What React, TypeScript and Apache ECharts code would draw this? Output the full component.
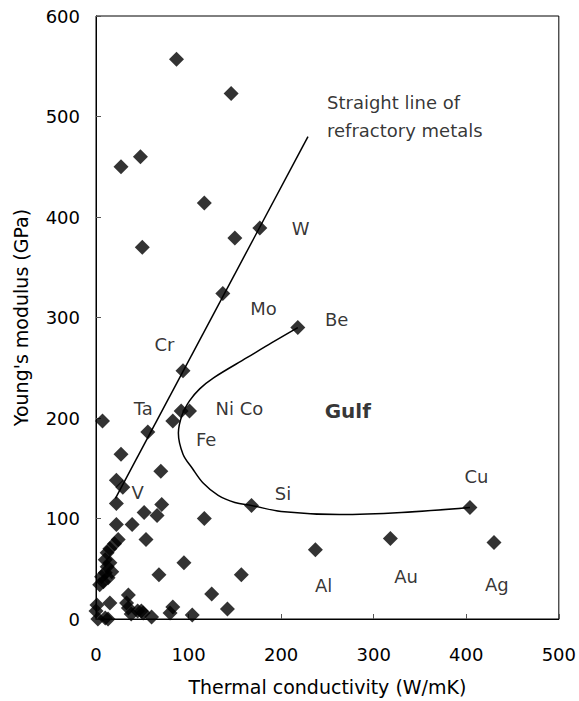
import React, { useEffect, useRef } from "react";
import * as echarts from "echarts";

// Thermal conductivity (W/mK), Young's modulus (GPa)
const materialPoints: [number, number][] = [
  [87, 557], [146, 523], [27, 450], [48, 460], [117, 414], [150, 379], [177, 389],
  [50, 370], [137, 324], [218, 290], [94, 247],
  [7, 197], [56, 186], [83, 197], [92, 207], [101, 207], [27, 164], [70, 147],
  [22, 138], [29, 131], [22, 115], [71, 114], [52, 106], [66, 103], [117, 100],
  [22, 94], [39, 94], [54, 79], [168, 113], [404, 111], [430, 76], [318, 80], [237, 69],
  [24, 79], [20, 75], [15, 70], [12, 66], [10, 59], [12, 52], [15, 56], [17, 47],
  [10, 46], [6, 42], [13, 41], [8, 37], [4, 34], [95, 56], [68, 44], [157, 44],
  [125, 25], [142, 10], [104, 4], [83, 12], [80, 6], [60, 2], [49, 8], [45, 8],
  [51, 6], [38, 5], [35, 24], [33, 16], [35, 11], [15, 16], [1, 14], [0, 8],
  [2, 0], [13, 0], [10, 1],
];

const refractoryLine: [number, number][] = [[21, 120], [229, 480]];

const gulfCurve: [number, number][] = [
  [218, 290], [190, 275], [163, 260], [127, 240], [112, 229], [101, 217], [93, 203],
  [89, 185], [94, 164], [104, 150], [116, 135], [132, 123], [150, 116], [168, 113],
  [200, 107], [263, 104], [330, 106], [404, 111],
];

const elementLabels: [number, number, string][] = [
  [221, 389, "W"], [181, 309, "Mo"], [74, 273, "Cr"], [260, 298, "Be"],
  [51, 209, "Ta"], [155, 209, "Ni Co"], [119, 179, "Fe"], [45, 126, "V"],
  [202, 125, "Si"], [411, 142, "Cu"], [246, 33, "Al"], [335, 42, "Au"], [433, 34, "Ag"],
];

const gulfLabel: [number, number, string][] = [[272, 207, "Gulf"]];

const noteLabels: [number, number, string][] = [
  [249.5, 514, "Straight line of"],
  [249.5, 486, "refractory metals"],
];

const xTicks = [0, 500, 100];
const yTicks = [0, 600, 100];

const FONT = "DejaVu Sans";

export default function App() {
  const ref = useRef<HTMLDivElement>(null);
  useEffect(() => {
    if (!ref.current) return;
    const chart = echarts.init(ref.current, null, { renderer: "svg" });
    const axisCommon = {
      axisLine: { show: true, lineStyle: { color: "#000", width: 1 } },
      axisTick: { show: true, inside: true, length: 5, lineStyle: { color: "#555" } },
      splitLine: { show: false },
      nameTextStyle: { fontFamily: FONT, fontSize: 19, color: "#000" },
    };
    const labelSeries = (data: [number, number, string][], extra: any) => ({
      type: "scatter",
      data,
      symbolSize: 0.1,
      itemStyle: { color: "transparent" },
      silent: true,
      label: {
        show: true,
        formatter: (p: any) => p.data[2],
        fontFamily: FONT,
        fontSize: 18,
        color: "#000",
        ...extra,
      },
    });
    chart.setOption({
      animation: false,
      backgroundColor: "#fff",
      textStyle: { fontFamily: FONT },
      grid: {
        left: 96,
        right: 20,
        top: 16,
        bottom: 78,
        show: true,
        borderColor: "#000",
        borderWidth: 1,
      },
      xAxis: {
        type: "value",
        min: xTicks[0],
        max: xTicks[1],
        interval: xTicks[2],
        name: "Thermal conductivity (W/mK)",
        nameLocation: "middle",
        nameGap: 58,
        axisLabel: { fontFamily: FONT, fontSize: 18, color: "#000", margin: 26 },
        ...axisCommon,
      },
      yAxis: {
        type: "value",
        min: yTicks[0],
        max: yTicks[1],
        interval: yTicks[2],
        name: "Young's modulus (GPa)",
        nameLocation: "middle",
        nameGap: 66,
        axisLabel: { fontFamily: FONT, fontSize: 18, color: "#000", margin: 16 },
        ...axisCommon,
      },
      series: [
        {
          type: "line",
          data: refractoryLine,
          symbol: "none",
          lineStyle: { color: "#000", width: 1.5 },
          silent: true,
        },
        {
          type: "line",
          data: gulfCurve,
          symbol: "none",
          smooth: 0.35,
          lineStyle: { color: "#000", width: 1.5 },
          silent: true,
        },
        {
          type: "scatter",
          data: materialPoints,
          symbol: "diamond",
          symbolSize: 15,
          itemStyle: { color: "#000" },
        },
        labelSeries(elementLabels, { position: "inside" }),
        labelSeries(gulfLabel, { position: "inside", fontSize: 20, fontWeight: "bold" }),
        labelSeries(noteLabels, { position: "right", distance: 0 }),
      ],
    });
    return () => chart.dispose();
  }, []);
  return <div ref={ref} style={{ width: 579, height: 701, position: "absolute", left: 0, top: 0 }} />;
}
